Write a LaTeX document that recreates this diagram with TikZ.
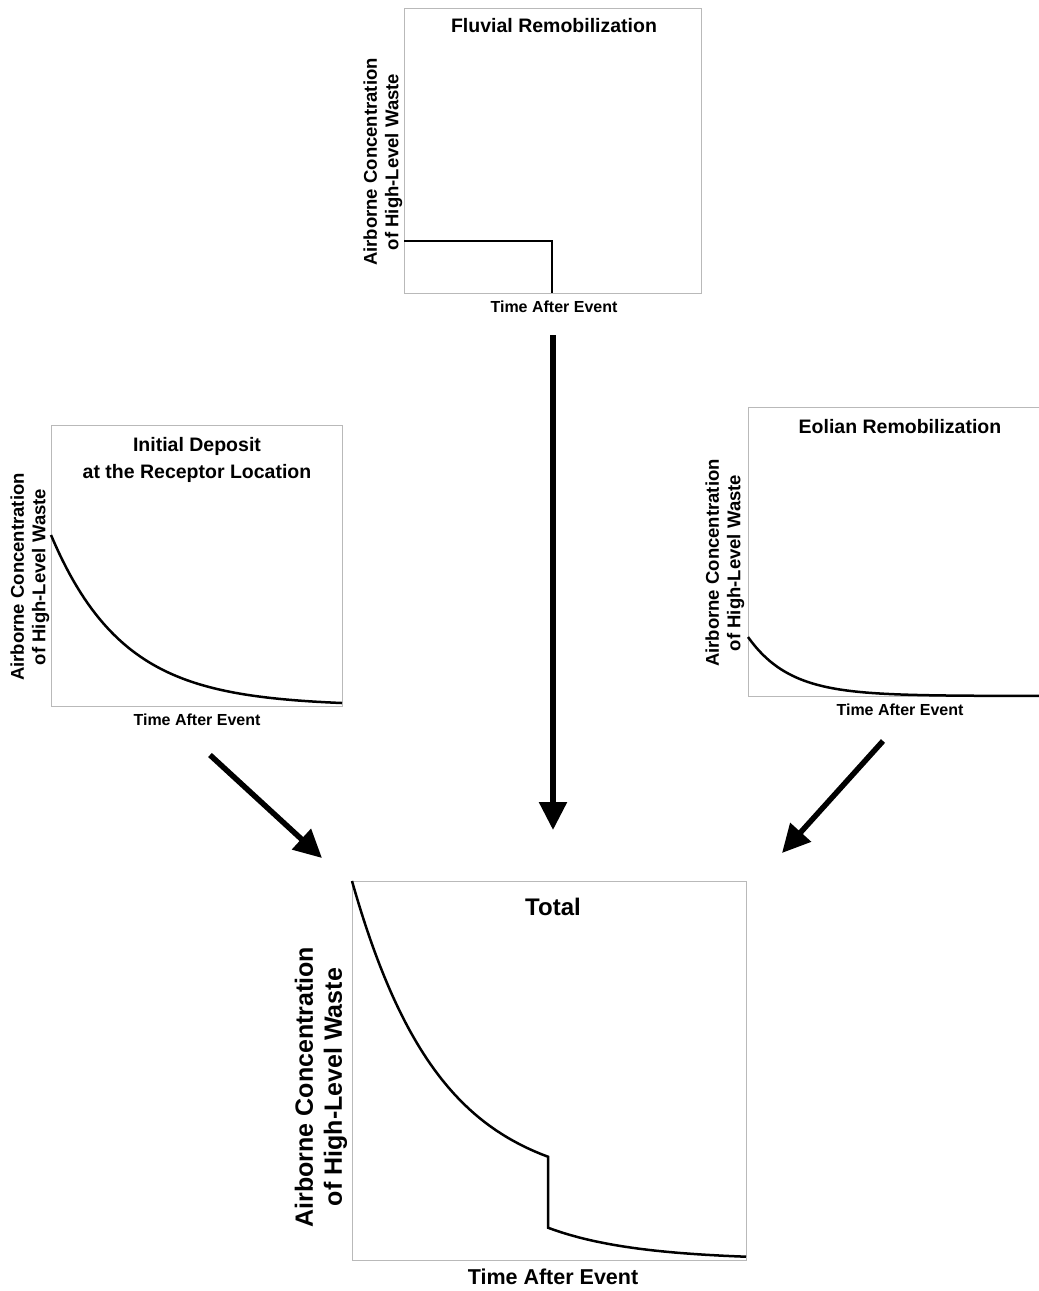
\documentclass[tikz,border=0pt]{standalone}
\usepackage{fontspec}
\setmainfont{Liberation Sans}
\usetikzlibrary{arrows.meta}
\definecolor{boxgray}{RGB}{185,185,185}
\begin{document}
\begin{tikzpicture}[x=1pt,y=-1pt,
  plotbox/.style={draw=boxgray, line width=1.2pt, inner sep=0pt, anchor=north west},
  curve/.style={line width=2.5pt, line join=miter},
  bigarrow/.style={line width=5.5pt, -{Triangle[width=27pt,length=28pt]}},
  ttl/.style={font=\bfseries\fontsize{19.5}{27}\selectfont, align=center, inner sep=0pt},
  tlab/.style={font=\bfseries\fontsize{16}{19}\selectfont, inner sep=0pt},
  ylab/.style={font=\bfseries\fontsize{18.5}{21.5}\selectfont, align=center, rotate=90, inner sep=0pt},
  bigttl/.style={font=\bfseries\fontsize{24}{28}\selectfont, inner sep=0pt},
  bigtlab/.style={font=\bfseries\fontsize{21.5}{25}\selectfont, inner sep=0pt},
  bigylab/.style={font=\bfseries\fontsize{25}{29}\selectfont, align=center, rotate=90, inner sep=0pt}]
\useasboundingbox (0,0) rectangle (1039,1291);
\fill[white] (0,0) rectangle (1039,1291);

% Fluvial
\node[plotbox, minimum width=297pt, minimum height=285pt] (fluv) at (404,8) {};
\node[ttl] (fluvt) at (554,26) {Fluvial Remobilization};
\node[tlab] (fluvx) at (554,307) {Time After Event};
\node[ylab] (fluvy) at (383,162) {Airborne Concentration\\of High-Level Waste};
\draw[curve] (404,241) -- (552,241) -- (552,293);

% Initial deposit
\node[plotbox, minimum width=291pt, minimum height=281pt] (init) at (51,425) {};
\node[ttl] (initt) at (197,459.5) {Initial Deposit\\at the Receptor Location};
\node[tlab] (initx) at (197,720) {Time After Event};
\node[ylab] (inity) at (30,577) {Airborne Concentration\\of High-Level Waste};
\draw[curve] plot[domain=51:342, samples=80] (\x, {706-171*exp(-0.0139*(\x-51))});

% Eolian
\node[plotbox, minimum width=292pt, minimum height=289pt] (eol) at (748,407) {};
\node[ttl] (eolt) at (900,427) {Eolian Remobilization};
\node[tlab] (eolx) at (900,710) {Time After Event};
\node[ylab] (eoly) at (725,563) {Airborne Concentration\\of High-Level Waste};
\draw[curve] plot[domain=748:1039, samples=80] (\x, {696-59*exp(-0.024*(\x-748))});

% Total
\node[plotbox, minimum width=394pt, minimum height=379pt] (tot) at (352,881) {};
\node[bigttl] (tott) at (553,907) {Total};
\node[bigtlab] (totx) at (553,1277) {Time After Event};
\node[bigylab] (toty) at (321,1087) {Airborne Concentration\\of High-Level Waste};
\draw[curve] plot[domain=352:548, samples=80] (\x, {1260-71-308*exp(-0.0115*(\x-352))})
  -- plot[domain=548:746, samples=60] (\x, {1260-308*exp(-0.0115*(\x-352))});

% Arrows
\coordinate (a1s) at (210,755);
\coordinate (a1e) at (322,858);
\coordinate (a2s) at (553,335);
\coordinate (a2e) at (553,830);
\coordinate (a3s) at (883,741);
\coordinate (a3e) at (782,853);
\draw[bigarrow] (a1s) -- (a1e);
\draw[bigarrow] (a2s) -- (a2e);
\draw[bigarrow] (a3s) -- (a3e);
\end{tikzpicture}
\end{document}
